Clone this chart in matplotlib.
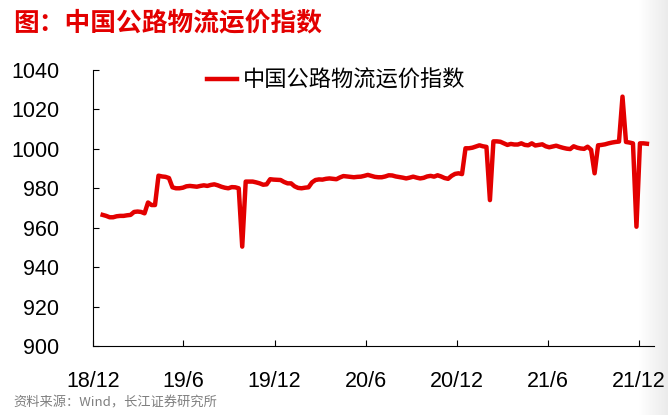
import matplotlib
matplotlib.use('Agg')
import matplotlib.pyplot as plt
import numpy as np
import pandas as pd

# weekly index values, starting 2018-12-21
start_date = '2018-12-21'
index_values = [
    966.5, 966.0, 965.3, 965.3, 965.8, 966.0, 966.0, 966.3, 966.5, 968.0,
    968.2, 968.0, 967.3, 972.8, 971.5, 971.5, 986.4, 986.0, 985.8, 985.2,
    980.5, 980.0, 980.0, 980.3, 981.0, 981.2, 981.0, 980.8, 981.2, 981.5,
    981.2, 981.7, 982.0, 981.5, 980.8, 980.3, 980.0, 980.6, 980.5, 980.0,
    950.4, 983.4, 983.4, 983.4, 983.0, 982.5, 981.8, 982.0, 984.6, 984.4,
    984.3, 984.2, 983.2, 982.5, 982.5, 981.0, 980.2, 980.0, 980.3, 980.5,
    983.0, 984.2, 984.5, 984.4, 984.8, 985.0, 984.8, 984.6, 985.5, 986.2,
    986.0, 985.8, 985.6, 985.8, 985.9, 986.3, 986.8, 986.3, 985.8, 985.6,
    985.6, 986.0, 986.6, 986.5, 986.0, 985.7, 985.4, 985.0, 985.4, 985.9,
    985.4, 985.0, 985.3, 986.0, 986.3, 985.9, 986.6, 986.0, 985.2, 984.8,
    986.3, 987.3, 987.6, 987.2, 1000.3, 1000.3, 1000.6, 1001.2, 1001.8, 1001.3,
    1001.0, 974.0, 1003.8, 1003.8, 1003.6, 1002.8, 1002.0, 1002.5, 1002.2, 1002.2,
    1002.8, 1002.0, 1001.8, 1002.8, 1001.7, 1002.0, 1002.3, 1001.3, 1000.8, 1001.2,
    1001.6, 1001.0, 1000.5, 1000.1, 999.9, 1001.3, 1000.6, 1000.2, 1000.0, 1001.1,
    999.5, 987.6, 1001.8, 1002.0, 1002.3, 1002.8, 1003.2, 1003.5, 1003.7, 1026.5,
    1003.5, 1003.2, 1002.8, 960.5, 1002.8, 1002.8, 1002.6,
]
tick_dates = ['2018-12-01', '2019-06-01', '2019-12-01', '2020-06-01',
              '2020-12-01', '2021-06-01', '2021-12-01']
tick_labels = ['18/12', '19/6', '19/12', '20/6', '20/12', '21/6', '21/12']
y_ticks = [900, 920, 940, 960, 980, 1000, 1020, 1040]

title_text = '图：中国公路物流运价指数'
series_name = '中国公路物流运价指数'
source_text = '资料来源：Wind，长江证券研究所'

red = '#e30000'
cjk = ['Noto Sans CJK SC', 'DejaVu Sans']

dates = pd.date_range(start_date, periods=len(index_values), freq='7D')

W, H = 668, 415
fig = plt.figure(figsize=(W / 100, H / 100), dpi=100)
fig.patch.set_facecolor('white')

# faint grey shading on the right edge of the screenshot
bg = fig.add_axes([638 / W, 0, 30 / W, 1], zorder=0)
grad = np.linspace(1.0, 0.92, 64).reshape(1, -1)
bg.imshow(grad, aspect='auto', cmap='gray', vmin=0, vmax=1, extent=[0, 1, 0, 1])
bg.axis('off')

ax = fig.add_axes([92.7 / W, 1 - 346 / H, (653.9 - 92.7) / W, (346 - 70) / H], zorder=1)
ax.set_facecolor('none')

ax.plot(dates, index_values, color=red, lw=3.2, solid_joinstyle='round',
        label=series_name)

ax.set_ylim(900, 1040)
ax.set_yticks(y_ticks)
ax.set_xlim(pd.Timestamp('2018-12-01'), pd.Timestamp('2021-12-31'))
ax.set_xticks(pd.to_datetime(tick_dates))
ax.set_xticklabels(tick_labels)

for s in ['top', 'right']:
    ax.spines[s].set_visible(False)
for s in ['left', 'bottom']:
    ax.spines[s].set_linewidth(0.8)
    ax.spines[s].set_color('black')

ax.tick_params(axis='both', direction='in', length=4, width=0.8,
               labelsize=15.5, colors='black')
ax.tick_params(axis='y', pad=24)
ax.tick_params(axis='x', pad=18)
for lab in ax.get_xticklabels() + ax.get_yticklabels():
    lab.set_fontfamily('Liberation Sans')

leg = ax.legend(loc='center left', bbox_to_anchor=(207 / W, 1 - 80 / H),
                bbox_transform=fig.transFigure, frameon=False,
                prop={'family': cjk, 'size': 16}, handlelength=1.35,
                handletextpad=0.25, borderpad=0, borderaxespad=0)

fig.text(13 / W, 1 - 23 / H, title_text, color=red, fontsize=18.5,
         fontweight='bold', family=cjk, ha='left', va='center')
fig.text(13 / W, 1 - 403 / H, source_text, color='#7f7f7f', fontsize=9.5,
         family=cjk, ha='left', va='center')

fig.savefig('out.png', dpi=100)
